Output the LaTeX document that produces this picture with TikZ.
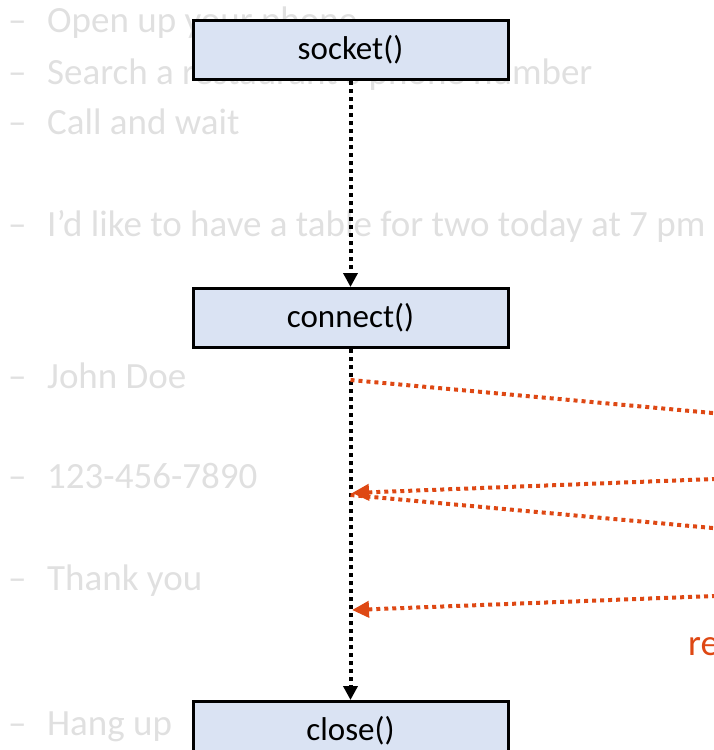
\documentclass[tikz,border=0pt]{standalone}
\usepackage{fontspec}
\setmainfont{Carlito}
\usetikzlibrary{arrows.meta}
\usetikzlibrary{calc}
\definecolor{boxblue}{RGB}{218,227,243}
\definecolor{msgred}{RGB}{222,72,20}
\definecolor{fadegray}{RGB}{224,224,224}
\tikzset{
	callbox/.style={draw=black, line width=3pt, fill=boxblue, minimum width=315pt, minimum height=59pt, inner sep=0pt, font=\fontsize{33}{40}\selectfont},
	lifeline/.style={line width=4pt, dash pattern=on 4pt off 4pt, -{Triangle[length=14pt,width=14pt]}},
	message/.style={msgred, line width=4pt, dash pattern=on 4pt off 4pt},
	steptext/.style={fadegray, anchor=base west, inner sep=0pt, font=\fontsize{37}{44}\selectfont}
}

\begin{document}
\begin{tikzpicture}[x=1pt, y=-1pt]
%%%%%%%%%%%%%%%%%%

%Frame
\useasboundingbox (0,0) rectangle (714,750);
\clip (0,0) rectangle (714,750);

%Phone call steps (faded)
	\foreach \y/\txt [count=\i] in {32/Open up your phone, 84/Search a restaurant's phone number, 134/Call and wait, 236/I'd like to have a table for two today at 7 pm, 388/John Doe, 488/123-456-7890, 590/Thank you, 735/Hang up}
	{
		\node[steptext] (step\i) at (8,\y) {\makebox[39pt][l]{–}\txt};
	}

%Socket calls
\node[callbox] (socket) at (350.5,50) {socket()};
\node[callbox] (connect) at (350.5,318) {connect()};
\node[callbox] (close) at (350.5,731) {close()};

%Lifeline
\draw[lifeline] (socket.south) -- (connect.north);
\draw[lifeline] (connect.south) -- (close.north);

% Message end points
	\coordinate (send1) at (350.5,380);
	\coordinate (recv1) at (352,493);
	\coordinate (send2) at (350.5,495);
	\coordinate (recv2) at (352,610);
	\coordinate (srv1) at (740,415.5);
	\coordinate (srv2) at (740,478);
	\coordinate (srv3) at (740,530.5);
	\coordinate (srv4) at (740,595);

% Messages
    \draw[message] (send1) -- (srv1);
    \draw[message, -{Triangle[length=17pt,width=16pt]}] (srv2) -- (recv1);
    \draw[message] (send2) -- (srv3);
    \draw[message, -{Triangle[length=17pt,width=16pt]}] (srv4) -- (recv2);

    \node[text=msgred, anchor=base west, inner sep=0pt, font=\fontsize{37}{44}\selectfont] (readcall) at (688,655) {re};
\end{tikzpicture}
\end{document}
